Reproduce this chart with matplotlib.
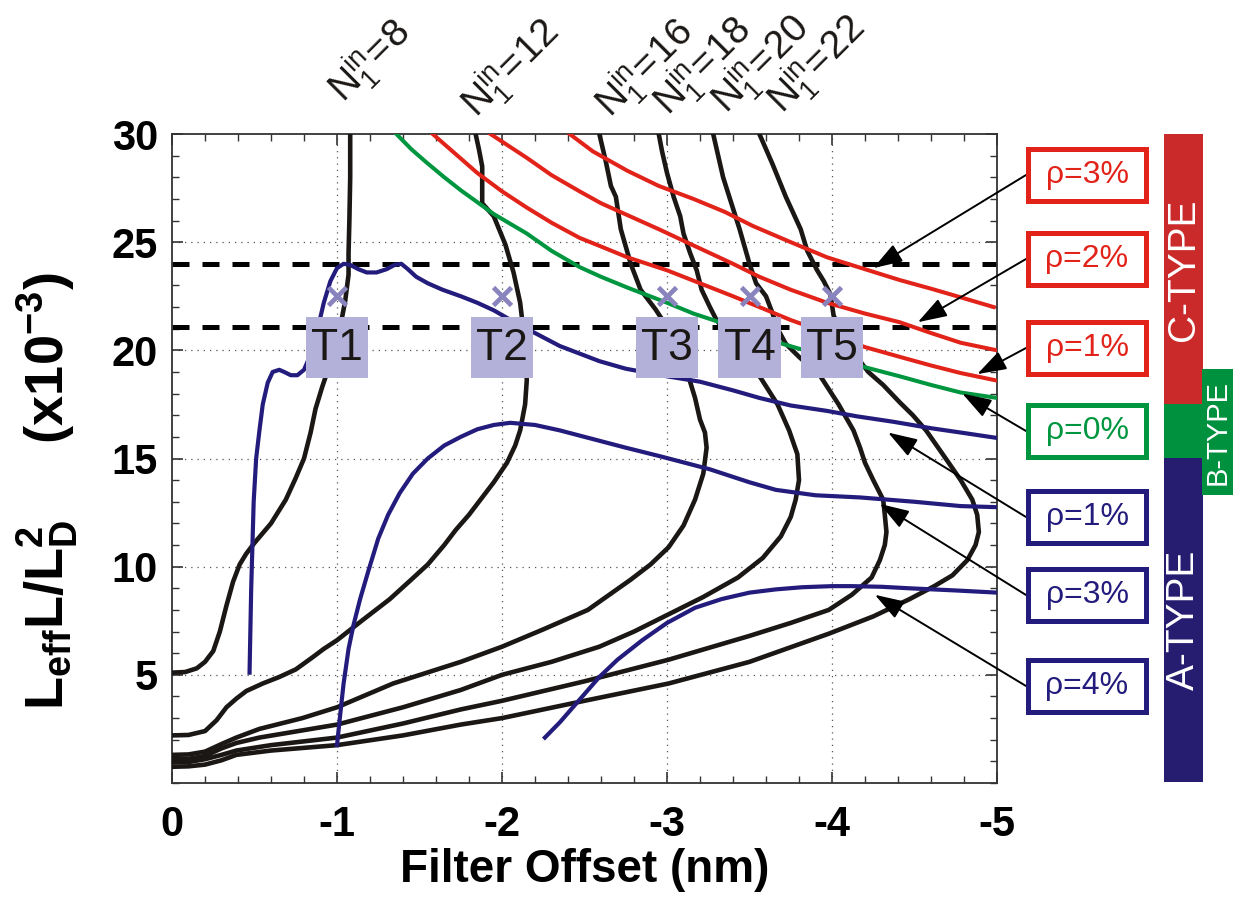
import matplotlib.pyplot as plt
from matplotlib.patches import Rectangle

plt.rcParams['font.family'] = ['Liberation Sans', 'DejaVu Sans']
plt.rcParams['mathtext.fontset'] = 'custom'
plt.rcParams['mathtext.rm'] = 'Liberation Sans'
plt.rcParams['mathtext.it'] = 'Liberation Sans'
plt.rcParams['mathtext.bf'] = 'Liberation Sans:bold'

# -----------------------------------------------------------
# data  (x = filter offset nm, y = Leff L/LD^2 x1e-3)
# -----------------------------------------------------------
n_labels = ['8', '12', '16', '18', '20', '22']
n_label_x = [-1.04, -1.85, -2.66, -3.01, -3.36, -3.70]
n_label_y = [31.4, 30.7, 30.7, 30.8, 30.9, 30.9]

n8_x = [0, -0.08, -0.15, -0.2, -0.25, -0.29, -0.33, -0.37, -0.41, -0.45, -0.5, -0.6, -0.69, -0.75, -0.80,
        -0.84, -0.87, -0.91, -0.95, -0.99, -1.02, -1.05, -1.07, -1.07, -1.075, -1.08, -1.08]
n8_y = [5.1, 5.13, 5.3, 5.6, 6.1, 7.0, 8.2, 9.3, 10.1, 10.6, 11.1, 12.0, 13.1, 14.1, 15.0,
        16.2, 17.3, 18.3, 19.2, 20.2, 21.1, 22.3, 23.5, 24.5, 26.0, 28.0, 30.0]

n12_x = [0, -0.1, -0.2, -0.27, -0.33, -0.39, -0.45, -0.55, -0.65, -0.75, -0.85, -0.92, -1.0, -1.15, -1.32,
         -1.45, -1.55, -1.65, -1.72, -1.80, -1.87, -1.95, -2.03, -2.08, -2.11, -2.14, -2.15, -2.145, -2.13,
         -2.11, -2.07, -2.02, -1.95, -1.88, -1.88, -1.86, -1.84]
n12_y = [2.2, 2.22, 2.4, 2.9, 3.5, 3.9, 4.25, 4.6, 4.9, 5.25, 5.8, 6.2, 6.6, 7.5, 8.5,
         9.4, 10.1, 11.0, 11.7, 12.4, 13.1, 13.9, 14.8, 15.6, 16.3, 17.5, 18.6, 19.8, 20.9,
         22.2, 23.6, 24.9, 26.2, 26.8, 28.5, 29.3, 30.0]

n16_x = [0, -0.1, -0.2, -0.3, -0.39, -0.53, -0.79, -1.0, -1.34, -1.75, -2.0, -2.25, -2.52, -2.65, -2.78,
         -2.9, -3.01, -3.1, -3.17, -3.22, -3.24, -3.23, -3.2, -3.17, -3.13, -3.05, -2.99, -2.93, -2.84,
         -2.81, -2.78, -2.75, -2.72, -2.69, -2.66, -2.63, -2.59]
n16_y = [1.3, 1.32, 1.45, 1.8, 2.1, 2.5, 3.0, 3.5, 4.6, 5.6, 6.3, 7.1, 8.0, 8.7, 9.4,
         10.1, 10.9, 11.9, 13.1, 14.3, 15.5, 16.2, 16.8, 17.8, 18.8, 20.3, 21.2, 21.9, 22.8,
         23.4, 24.0, 24.8, 25.6, 27.1, 27.6, 28.7, 30.0]

n18_x = [0, -0.1, -0.2, -0.3, -0.39, -0.53, -1.0, -1.4, -1.75, -2.0, -2.3, -2.59, -2.8, -3.01, -3.22,
         -3.43, -3.58, -3.69, -3.75, -3.78, -3.80, -3.79, -3.74, -3.67, -3.57, -3.49, -3.42, -3.35, -3.30,
         -3.26, -3.21, -3.18, -3.14, -3.10, -3.08, -3.04, -3.0, -2.97, -2.95]
n18_y = [1.1, 1.12, 1.25, 1.6, 1.85, 2.1, 2.7, 3.5, 4.3, 5.0, 5.6, 6.3, 7.0, 7.8, 8.6,
         9.5, 10.4, 11.4, 12.3, 13.1, 14.0, 15.2, 16.3, 17.5, 18.7, 19.5, 20.2, 20.9, 21.4,
         22.0, 22.8, 23.7, 24.5, 25.4, 26.2, 27.1, 28.2, 29.2, 30.0]

n20_x = [0, -0.1, -0.2, -0.3, -0.39, -0.6, -1.0, -1.4, -1.75, -2.0, -2.5, -3.01, -3.5, -3.75, -3.98,
         -4.12, -4.24, -4.29, -4.32, -4.33, -4.32, -4.31, -4.25, -4.2, -4.17, -4.13, -4.04, -3.93, -3.80,
         -3.72, -3.67, -3.64, -3.60, -3.54, -3.50, -3.44, -3.39, -3.34, -3.28]
n20_y = [0.95, 0.97, 1.1, 1.3, 1.5, 1.75, 2.1, 2.75, 3.4, 3.8, 4.7, 5.7, 6.8, 7.4, 8.0,
         8.7, 9.5, 10.3, 11.0, 11.6, 12.4, 13.1, 14.0, 14.8, 15.5, 16.3, 17.5, 18.8, 19.7,
         20.3, 21.0, 21.7, 22.5, 23.1, 24.0, 25.6, 26.8, 28.0, 30.0]

n22_x = [0, -0.1, -0.2, -0.3, -0.39, -0.6, -1.0, -1.4, -1.75, -2.0, -2.5, -3.01, -3.5, -3.98, -4.25,
         -4.47, -4.62, -4.73, -4.82, -4.87, -4.89, -4.88, -4.85, -4.78, -4.68, -4.57, -4.49, -4.41, -4.31,
         -4.22, -4.14, -4.07, -4.01, -3.99, -3.95, -3.91, -3.85, -3.81, -3.72, -3.64, -3.56]
n22_y = [0.75, 0.77, 0.85, 1.05, 1.3, 1.5, 1.75, 2.2, 2.7, 3.0, 3.8, 4.6, 5.6, 6.9, 7.7,
         8.5, 9.1, 9.6, 10.3, 11.0, 11.6, 12.4, 13.1, 14.0, 15.1, 16.3, 17.0, 17.6, 18.4,
         19.0, 19.8, 20.7, 21.6, 22.6, 23.2, 23.7, 24.6, 25.6, 27.1, 28.6, 30.0]

# A-type (blue), rho = 1 %, 3 %, 4 %
a1_x = [-0.47, -0.48, -0.495, -0.51, -0.53, -0.55, -0.58, -0.61, -0.65, -0.68, -0.72, -0.76, -0.80, -0.84,
        -0.88, -0.92, -0.96, -1.0, -1.04, -1.08, -1.13, -1.18, -1.24, -1.30, -1.35, -1.39, -1.43, -1.48,
        -1.55, -1.64, -1.75, -1.85, -1.95, -2.03, -2.15, -2.25, -2.35, -2.47, -2.59, -2.75, -3.0, -3.2,
        -3.4, -3.56, -3.75, -3.97, -4.15, -4.37, -4.6, -4.78, -5.0]
a1_y = [5.1, 9.0, 13.0, 15.0, 16.3, 17.5, 18.5, 19.0, 19.1, 19.0, 18.85, 18.85, 19.1, 19.8,
        20.9, 22.2, 23.2, 23.8, 24.0, 23.95, 23.75, 23.6, 23.6, 23.75, 23.95, 24.0, 23.75, 23.4,
        23.1, 22.8, 22.5, 22.2, 21.85, 21.5, 21.0, 20.6, 20.2, 19.85, 19.5, 19.15, 18.8, 18.55,
        18.15, 17.8, 17.45, 17.2, 16.95, 16.7, 16.4, 16.2, 15.95]

a3_x = [-1.0, -1.02, -1.04, -1.07, -1.10, -1.14, -1.19, -1.25, -1.31, -1.38, -1.46, -1.55, -1.65, -1.75,
        -1.85, -1.95, -2.05, -2.2, -2.35, -2.5, -2.75, -2.96, -3.26, -3.5, -3.66, -3.9, -4.17, -4.5,
        -4.78, -5.0]
a3_y = [1.75, 3.2, 4.6, 6.2, 7.3, 8.5, 9.8, 11.3, 12.4, 13.4, 14.3, 15.0, 15.6, 16.0,
        16.35, 16.55, 16.65, 16.55, 16.3, 16.0, 15.5, 15.1, 14.5, 13.9, 13.55, 13.3, 13.2, 13.0,
        12.8, 12.75]

a4_x = [-2.26, -2.35, -2.43, -2.51, -2.59, -2.7, -2.85, -3.0, -3.17, -3.33, -3.5, -3.66, -3.82, -4.0,
        -4.12, -4.3, -4.47, -4.75, -5.0]
a4_y = [2.1, 2.8, 3.5, 4.2, 4.9, 5.7, 6.6, 7.4, 8.1, 8.5, 8.8, 8.95, 9.05, 9.1,
        9.1, 9.07, 9.0, 8.9, 8.8]

# B-type (green), rho = 0 %
b0_x = [-1.36, -1.45, -1.54, -1.65, -1.75, -1.85, -1.95, -2.05, -2.15, -2.3, -2.47, -2.6, -2.76, -3.0,
        -3.16, -3.32, -3.5, -3.70, -3.97, -4.21, -4.41, -4.6, -4.78, -5.0]
b0_y = [30.0, 29.3, 28.7, 28.0, 27.4, 26.85, 26.3, 25.85, 25.4, 24.6, 23.85, 23.4, 22.9, 22.2,
        21.7, 21.3, 20.8, 20.3, 19.7, 19.2, 18.8, 18.4, 18.05, 17.8]

# C-type (red), rho = 1 %, 2 %, 3 %
c1_x = [-1.58, -1.7, -1.85, -2.0, -2.15, -2.3, -2.47, -2.6, -2.76, -3.0, -3.2, -3.4, -3.56, -3.75,
        -3.97, -4.2, -4.41, -4.6, -4.78, -5.0]
c1_y = [30.0, 29.2, 28.2, 27.35, 26.6, 25.9, 25.2, 24.8, 24.3, 23.7, 23.1, 22.5, 22.0, 21.4,
        20.8, 20.15, 19.7, 19.3, 18.95, 18.6]

c2_x = [-1.93, -2.05, -2.15, -2.3, -2.47, -2.6, -2.76, -2.95, -3.16, -3.4, -3.56, -3.75, -3.97, -4.2,
        -4.41, -4.6, -4.78, -5.0]
c2_y = [30.0, 29.4, 28.9, 28.1, 27.35, 26.8, 26.25, 25.6, 24.85, 24.0, 23.4, 22.8, 22.2, 21.7,
        21.3, 20.8, 20.35, 20.0]

c3_x = [-2.41, -2.55, -2.76, -2.95, -3.16, -3.35, -3.52, -3.75, -3.97, -4.2, -4.41, -4.6, -4.78, -4.98]
c3_y = [30.0, 29.2, 28.3, 27.6, 27.0, 26.4, 25.75, 25.0, 24.3, 23.75, 23.25, 22.85, 22.45, 22.0]

limit_y = [24.0, 21.1]

t_labels = ['T1', 'T2', 'T3', 'T4', 'T5']
t_x = [-1.0, -2.0, -3.0, -3.5, -4.0]
t_cross_y = 22.5
t_box_y = 20.15

rho_labels = ['ρ=3%', 'ρ=2%', 'ρ=1%', 'ρ=0%', 'ρ=1%', 'ρ=3%', 'ρ=4%']
rho_tip_x = [-4.25, -4.52, -4.88, -4.79, -4.34, -4.29, -4.26]
rho_tip_y = [23.8, 21.3, 18.9, 18.0, 16.2, 12.9, 8.7]

RED = '#e2231a'
GREEN = '#00963f'
BLUE = '#231c7c'
BLACK = '#1a1715'
rho_colors = [RED, RED, RED, GREEN, BLUE, BLUE, BLUE]

# -----------------------------------------------------------
W, H = 1238, 899
fig = plt.figure(figsize=(W / 100, H / 100), dpi=100)
ax = fig.add_axes([172 / W, 1 - 783 / H, 825 / W, 649 / H])


def fx(px):
    return px / W


def fy(py):
    return 1 - py / H


for yy in limit_y:
    ax.axhline(yy, color='black', lw=3.6, dashes=(3.4, 2.6), zorder=2)

for xs, ys in [(n8_x, n8_y), (n12_x, n12_y), (n16_x, n16_y), (n18_x, n18_y), (n20_x, n20_y), (n22_x, n22_y)]:
    ax.plot(xs, ys, color=BLACK, lw=3.3, zorder=3, solid_joinstyle='round')

for xs, ys in [(a1_x, a1_y), (a3_x, a3_y), (a4_x, a4_y)]:
    ax.plot(xs, ys, color=BLUE, lw=3.0, zorder=4, solid_joinstyle='round')
ax.plot(b0_x, b0_y, color=GREEN, lw=2.9, zorder=4, solid_joinstyle='round')
for xs, ys in [(c1_x, c1_y), (c2_x, c2_y), (c3_x, c3_y)]:
    ax.plot(xs, ys, color=RED, lw=2.9, zorder=4, solid_joinstyle='round')

# T markers and boxes
ax.plot(t_x, [t_cross_y] * len(t_x), 'x', color='#8984bd', ms=13, mew=3.4, zorder=6)
for lab, xx in zip(t_labels, t_x):
    ax.add_patch(Rectangle((xx + 0.188, t_box_y - 1.41), -0.376, 2.82,
                           facecolor='#b3b0d9', edgecolor='none', zorder=7))
    ax.text(xx, t_box_y - 0.05, lab, ha='center', va='center', fontsize=32, color=BLACK, zorder=8)

# axes styling
ax.set_xlim(0, -5)
ax.set_ylim(0, 30)
ax.set_xticks([0, -1, -2, -3, -4, -5])
ax.set_xticklabels(['0', '-1', '-2', '-3', '-4', '-5'])
ax.set_yticks([5, 10, 15, 20, 25, 30])
ax.set_xticks([-0.2 * i for i in range(26)], minor=True)
ax.set_yticks(range(0, 31), minor=True)
ax.tick_params(which='both', direction='in', top=True, right=True, color='#333333')
ax.tick_params(which='major', length=8, width=1.2)
ax.tick_params(which='minor', length=5, width=1.0)
ax.tick_params(axis='x', which='major', labelsize=30, pad=16)
ax.tick_params(axis='y', which='major', labelsize=30, pad=10)
for lab in ax.get_xticklabels() + ax.get_yticklabels():
    lab.set_fontweight('bold')
for sp in ax.spines.values():
    sp.set_linewidth(1.3)
    sp.set_color('#333333')
for xx in [-1, -2, -3, -4]:
    ax.axvline(xx, color='#555555', lw=0.9, ls=(0, (1, 4)), zorder=1)
for yy in [5, 10, 15, 20, 25]:
    ax.axhline(yy, color='#555555', lw=0.9, ls=(0, (1, 4)), zorder=1)

ax.set_xlabel('Filter Offset (nm)', fontsize=33, fontweight='bold')
ax.xaxis.set_label_coords(0.5, -0.1)
ax.set_ylabel(r'$\mathregular{L_{eff}L/L_D^2\ \ \ \ \ (x10^{-3})}$', fontsize=39, fontweight='bold')
ax.yaxis.set_label_coords(-0.112, 0.45)

# N1in labels on top
for lab, xx, yy in zip(n_labels, n_label_x, n_label_y):
    ax.text(xx, yy, r'$\mathregular{N_1^{in}\!=\!%s}$' % lab, rotation=45, rotation_mode='anchor',
            ha='left', va='baseline', fontsize=28, color=BLACK, clip_on=False)

# rho boxes with arrows
box_cy = [175, 259, 348, 431, 517, 595, 686]
for lab, col, cy, tx, ty in zip(rho_labels, rho_colors, box_cy, rho_tip_x, rho_tip_y):
    fig.patches.append(Rectangle((fx(1028), fy(cy + 26)), 118 / W, 52 / H, transform=fig.transFigure,
                                 facecolor='white', edgecolor=col, lw=3.6, zorder=5))
    fig.text(fx(1087), fy(cy), lab, ha='center', va='center', fontsize=23, color=col, zorder=6)
    ax.annotate('', xy=(tx, ty), xycoords='data', xytext=(fx(1026), fy(cy)), textcoords='figure fraction',
                arrowprops=dict(arrowstyle='-|>,head_length=0.9,head_width=0.3', color='black',
                                lw=1.4, mutation_scale=20, shrinkA=0, shrinkB=0),
                annotation_clip=False, zorder=9)

# type bars
fig.patches.append(Rectangle((fx(1164), fy(404)), 39 / W, 270 / H, transform=fig.transFigure,
                             facecolor='#cb2a2a', edgecolor='none'))
fig.patches.append(Rectangle((fx(1164), fy(458)), 39 / W, 54 / H, transform=fig.transFigure,
                             facecolor='#00913f', edgecolor='none'))
fig.patches.append(Rectangle((fx(1164), fy(782)), 39 / W, 324 / H, transform=fig.transFigure,
                             facecolor='#261c70', edgecolor='none'))
fig.patches.append(Rectangle((fx(1202), fy(495)), 31 / W, 126 / H, transform=fig.transFigure,
                             facecolor='#00913f', edgecolor='none'))
fig.text(fx(1184), fy(270), 'C-TYPE', rotation=90, ha='center', va='center', fontsize=28, color='white')
fig.text(fx(1184), fy(620), 'A-TYPE', rotation=90, ha='center', va='center', fontsize=28, color='white')
fig.text(fx(1218), fy(432), 'B-TYPE', rotation=90, ha='center', va='center', fontsize=21, color='white')

fig.savefig('out.png', dpi=100)
